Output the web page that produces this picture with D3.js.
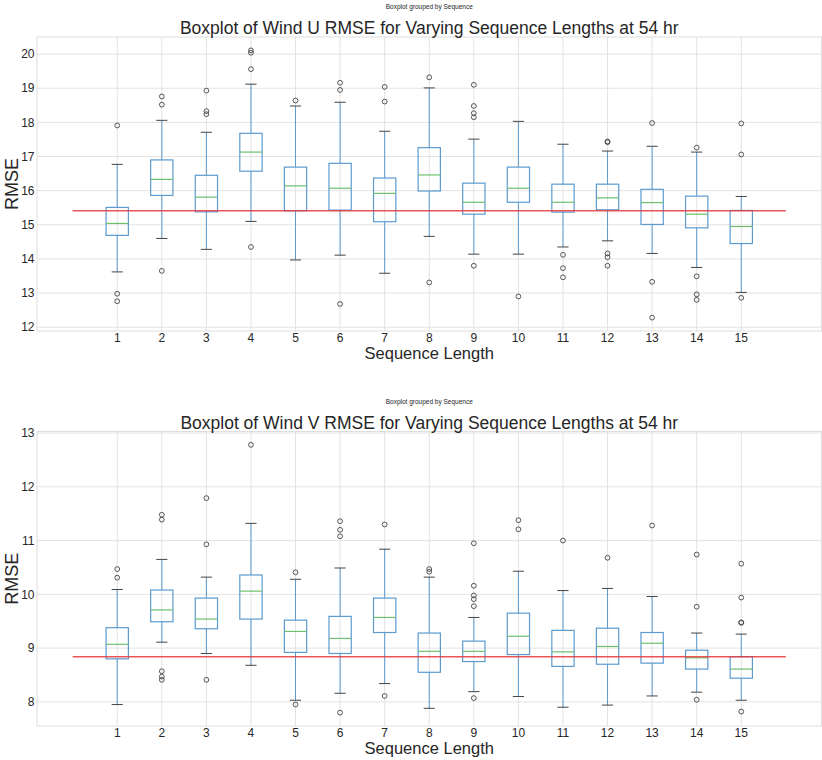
<!DOCTYPE html>
<html>
<head>
<meta charset="utf-8">
<script src="https://cdn.jsdelivr.net/npm/d3@7"></script>
<style>
	body { margin: 0; background: #fff; }
	svg text { font-family: "Liberation Sans", Arial, sans-serif; fill: #262626; }
</style>
</head>
<body>
<div id="chart"></div>
<script>
// sequence lengths on the x axis
const sequences = [1, 2, 3, 4, 5, 6, 7, 8, 9, 10, 11, 12, 13, 14, 15];

// Wind U RMSE box stats per sequence length
const uLowCap = [13.62, 14.60, 14.28, 15.10, 13.97, 14.11, 13.58, 14.66, 14.14, 14.14, 14.35, 14.53, 14.16, 13.75, 13.02];
const uQ1 = [14.69, 15.86, 15.38, 16.57, 15.41, 15.43, 15.09, 15.99, 15.31, 15.66, 15.37, 15.44, 15.01, 14.91, 14.45];
const uMedian = [15.04, 16.33, 15.81, 17.13, 16.14, 16.07, 15.92, 16.46, 15.66, 16.07, 15.66, 15.79, 15.65, 15.31, 14.95];
const uQ3 = [15.51, 16.90, 16.45, 17.68, 16.69, 16.80, 16.37, 17.26, 16.22, 16.69, 16.19, 16.19, 16.04, 15.84, 15.42];
const uHighCap = [16.77, 18.06, 17.71, 19.12, 18.48, 18.59, 17.74, 19.01, 17.51, 18.03, 17.36, 17.16, 17.30, 17.13, 15.83];
const uOutliers = [
	[17.91, 12.98, 12.76],
	[18.76, 18.52, 13.65],
	[18.93, 18.33, 18.24],
	[20.11, 20.04, 19.56, 14.35],
	[18.64],
	[19.16, 18.95, 12.68],
	[19.04, 18.61],
	[19.32, 13.31],
	[19.10, 18.48, 18.27, 18.15, 13.80],
	[12.90],
	[14.12, 13.73, 13.46],
	[17.44, 17.42, 14.16, 14.05, 13.80],
	[17.98, 13.33, 12.28],
	[17.26, 13.49, 12.96, 12.80],
	[17.97, 17.06, 12.86]
];
const uBaseline = 15.41;
const uTicks = [12, 13, 14, 15, 16, 17, 18, 19, 20];

// Wind V RMSE box stats per sequence length
const vLowCap = [7.95, 9.11, 8.90, 8.68, 8.03, 8.16, 8.34, 7.88, 8.19, 8.10, 7.90, 7.94, 8.11, 8.18, 8.03];
const vQ1 = [8.80, 9.49, 9.36, 9.54, 8.92, 8.90, 9.29, 8.55, 8.75, 8.88, 8.66, 8.70, 8.72, 8.61, 8.44];
const vMedian = [9.07, 9.71, 9.54, 10.06, 9.31, 9.18, 9.57, 8.94, 8.94, 9.22, 8.93, 9.03, 9.09, 8.82, 8.61];
const vQ3 = [9.38, 10.08, 9.93, 10.36, 9.52, 9.59, 9.93, 9.28, 9.13, 9.65, 9.33, 9.37, 9.29, 8.96, 8.84];
const vHighCap = [10.09, 10.65, 10.32, 11.32, 10.28, 10.49, 10.84, 10.32, 9.57, 10.43, 10.07, 10.11, 9.96, 9.28, 9.26];
const vOutliers = [
	[10.47, 10.31],
	[11.48, 11.39, 8.57, 8.47, 8.41],
	[11.79, 10.93, 8.41],
	[12.78],
	[10.41, 7.95],
	[11.36, 11.20, 11.08, 7.80],
	[11.30, 8.11],
	[10.47, 10.42],
	[10.95, 10.16, 9.98, 9.91, 9.78, 8.07],
	[11.38, 11.21],
	[11.00],
	[10.68],
	[11.28],
	[10.74, 9.77, 8.04],
	[10.57, 9.94, 9.48, 9.47, 7.82]
];
const vBaseline = 8.84;
const vTicks = [8, 9, 10, 11, 12, 13];

class BoxPlot {
	constructor({ svg, top, height, title, lowCap, q1, median, q3, highCap, outliers, baseline, yTicks }) {
		this.svg = svg;
		this.left = 37;
		this.right = 821.5;
		this.top = top;
		this.bottom = top + height;

		this.rows = sequences.map((s, i) => ({
			seq: s,
			lowCap: lowCap[i],
			q1: q1[i],
			median: median[i],
			q3: q3[i],
			highCap: highCap[i],
			outliers: outliers[i]
		}));
		this.baseline = baseline;

		// x spans 0..16 (baseline line ends) with 5% padding either side
		this.x = d3.scaleLinear().domain([-0.8, 16.8]).range([this.left, this.right]);

		const all = this.rows.flatMap(d => [d.lowCap, d.highCap, ...d.outliers]);
		const lo = d3.min(all), hi = d3.max(all), pad = (hi - lo) * 0.05;
		this.y = d3.scaleLinear().domain([lo - pad, hi + pad]).range([this.bottom, this.top]);

		this.g = svg.append("g");
		this.drawGrid(yTicks);
		this.drawBoxes();
		this.drawBaseline();
		this.drawLabels(title);
	}

	drawGrid(yTicks) {
		const grid = this.g.append("g").attr("class", "grid");

		grid.selectAll(".hgrid")
			.data(yTicks)
			.enter()
			.append("line")
			.attr("x1", this.left)
			.attr("x2", this.right)
			.attr("y1", d => this.y(d))
			.attr("y2", d => this.y(d))
			.attr("stroke", "#e3e3e3");

		grid.selectAll(".vgrid")
			.data(sequences)
			.enter()
			.append("line")
			.attr("x1", d => this.x(d))
			.attr("x2", d => this.x(d))
			.attr("y1", this.top)
			.attr("y2", this.bottom)
			.attr("stroke", "#e3e3e3");

		grid.append("rect")
			.attr("x", this.left)
			.attr("y", this.top)
			.attr("width", this.right - this.left)
			.attr("height", this.bottom - this.top)
			.attr("fill", "none")
			.attr("stroke", "#dedede");

		// tick labels
		this.g.selectAll(".ytick")
			.data(yTicks)
			.enter()
			.append("text")
			.attr("x", this.left - 2.5)
			.attr("y", d => this.y(d))
			.attr("dy", "0.35em")
			.attr("text-anchor", "end")
			.style("font-size", "12px")
			.text(d => d);

		this.g.selectAll(".xtick")
			.data(sequences)
			.enter()
			.append("text")
			.attr("x", d => this.x(d))
			.attr("y", this.bottom + 10.5)
			.attr("text-anchor", "middle")
			.style("font-size", "12px")
			.text(d => d);
	}

	drawBoxes() {
		const boxW = this.x(0.5) - this.x(0);
		const capW = boxW / 2;
		const blue = "#5b9bd0";

		const box = this.g.selectAll(".box")
			.data(this.rows)
			.enter()
			.append("g")
			.attr("class", "box");

		// whiskers
		box.append("line")
			.attr("x1", d => this.x(d.seq))
			.attr("x2", d => this.x(d.seq))
			.attr("y1", d => this.y(d.q3))
			.attr("y2", d => this.y(d.highCap))
			.attr("stroke", blue);
		box.append("line")
			.attr("x1", d => this.x(d.seq))
			.attr("x2", d => this.x(d.seq))
			.attr("y1", d => this.y(d.q1))
			.attr("y2", d => this.y(d.lowCap))
			.attr("stroke", blue);

		// caps
		["lowCap", "highCap"].forEach(key => {
			box.append("line")
				.attr("x1", d => this.x(d.seq) - capW / 2)
				.attr("x2", d => this.x(d.seq) + capW / 2)
				.attr("y1", d => this.y(d[key]))
				.attr("y2", d => this.y(d[key]))
				.attr("stroke", "#444");
		});

		box.append("rect")
			.attr("x", d => this.x(d.seq) - boxW / 2)
			.attr("y", d => this.y(d.q3))
			.attr("width", boxW)
			.attr("height", d => this.y(d.q1) - this.y(d.q3))
			.attr("fill", "none")
			.attr("stroke", blue)
			.attr("stroke-width", 1.2);

		box.append("line")
			.attr("x1", d => this.x(d.seq) - boxW / 2)
			.attr("x2", d => this.x(d.seq) + boxW / 2)
			.attr("y1", d => this.y(d.median))
			.attr("y2", d => this.y(d.median))
			.attr("stroke", "#6cc06c")
			.attr("stroke-width", 1.2);

		// fliers
		box.selectAll(".flier")
			.data(d => d.outliers.map(v => ({ seq: d.seq, v })))
			.enter()
			.append("circle")
			.attr("cx", d => this.x(d.seq))
			.attr("cy", d => this.y(d.v))
			.attr("r", 2.4)
			.attr("fill", "none")
			.attr("stroke", "#444")
			.attr("stroke-width", 0.9);
	}

	drawBaseline() {
		this.g.append("line")
			.attr("x1", this.x(0))
			.attr("x2", this.x(16))
			.attr("y1", this.y(this.baseline))
			.attr("y2", this.y(this.baseline))
			.attr("stroke", "#e8383c")
			.attr("stroke-width", 1.6)
			.attr("opacity", 0.85);
	}

	drawLabels(title) {
		const cx = (this.left + this.right) / 2;

		this.g.append("text")
			.attr("x", cx)
			.attr("y", this.top - 28)
			.attr("text-anchor", "middle")
			.style("font-size", "6.5px")
			.text("Boxplot grouped by Sequence");

		this.g.append("text")
			.attr("x", cx)
			.attr("y", this.top - 3)
			.attr("text-anchor", "middle")
			.style("font-size", "17.5px")
			.text(title);

		this.g.append("text")
			.attr("x", cx)
			.attr("y", this.bottom + 28)
			.attr("text-anchor", "middle")
			.style("font-size", "16.5px")
			.text("Sequence Length");

		this.g.append("text")
			.attr("transform", `translate(17.5, ${(this.top + this.bottom) / 2}) rotate(-90)`)
			.attr("text-anchor", "middle")
			.style("font-size", "18px")
			.text("RMSE");
	}
}

const svg = d3.select("#chart")
	.append("svg")
	.attr("width", 822)
	.attr("height", 760);

new BoxPlot({
	svg, top: 37, height: 294,
	title: "Boxplot of Wind U RMSE for Varying Sequence Lengths at 54 hr",
	lowCap: uLowCap, q1: uQ1, median: uMedian, q3: uQ3, highCap: uHighCap,
	outliers: uOutliers, baseline: uBaseline, yTicks: uTicks
});

new BoxPlot({
	svg, top: 431.5, height: 294.5,
	title: "Boxplot of Wind V RMSE for Varying Sequence Lengths at 54 hr",
	lowCap: vLowCap, q1: vQ1, median: vMedian, q3: vQ3, highCap: vHighCap,
	outliers: vOutliers, baseline: vBaseline, yTicks: vTicks
});
</script>
</body>
</html>
